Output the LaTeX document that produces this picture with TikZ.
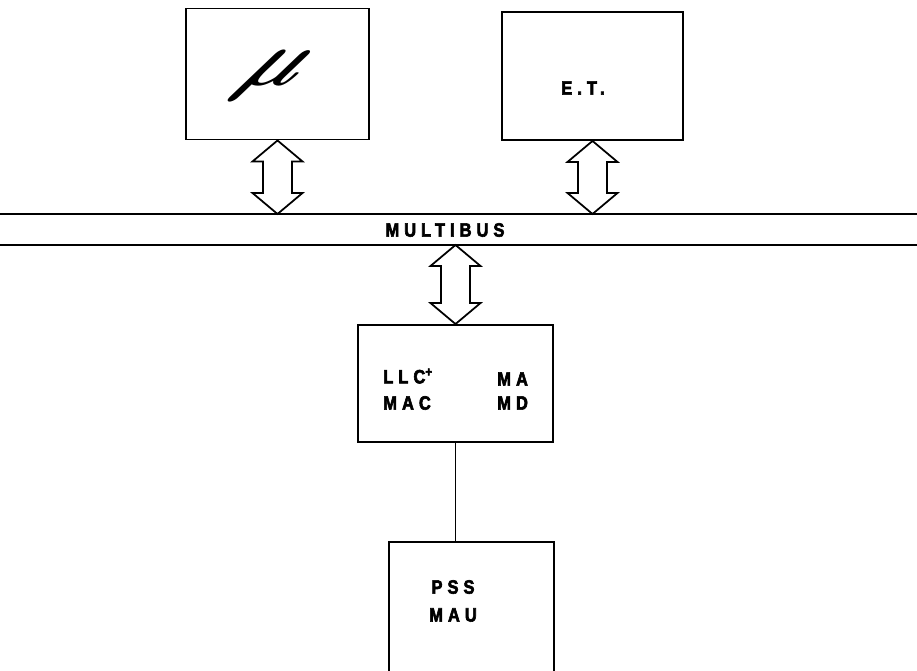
\documentclass[tikz,border=0pt]{standalone}
\usepackage{fontspec}
\usepackage{tikz}
\usetikzlibrary{positioning,calc}
\newfontfamily\rotulofont[FakeStretch=0.85,LetterSpace=26,FakeBold=3]{Liberation Sans Bold}
\tikzset{
  caja/.style={rectangle, draw=black, line width=1.1pt, fill=white, inner sep=0pt},
  rotulo/.style={font=\fontsize{11}{12}\selectfont\rotulofont, inner sep=0pt},
  bus/.style={line width=1.1pt},
  enlace/.style={line width=0.9pt},
  flechad/.style={draw=black, line width=1pt, fill=white, line join=miter,
    to path={let \p1=(\tikztostart), \p2=(\tikztotarget) in
      (\p1) -- (\x1+0.5cm,\y1-0.42cm) -- (\x1+0.29cm,\y1-0.42cm)
      -- (\x1+0.29cm,\y2+0.42cm) -- (\x1+0.5cm,\y2+0.42cm) -- (\x1,\y2)
      -- (\x1-0.5cm,\y2+0.42cm) -- (\x1-0.29cm,\y2+0.42cm)
      -- (\x1-0.29cm,\y1-0.42cm) -- (\x1-0.5cm,\y1-0.42cm) -- cycle}},
}
\begin{document}
\begin{tikzpicture}
  \useasboundingbox[fill=white] (0,0) rectangle (18.34,-13.4);
  \node[caja, minimum width=3.66cm, minimum height=2.62cm] (mu) at (5.55,-1.48) {};
  \node[caja, minimum width=3.62cm, minimum height=2.56cm] (et) at (11.85,-1.52) {};
  \node[font=\Huge\boldmath, inner sep=0pt, scale=1.8, xslant=0.8] (musim) at (5.44,-1.52) {$\mu$};
  \node[rotulo] (etq) at (11.66,-1.76) {E.T.};
  \coordinate (busA) at (0,-4.28);
  \coordinate (busB) at (18.34,-4.28);
  \coordinate (busC) at (0,-4.90);
  \coordinate (busD) at (18.34,-4.90);
  \draw[bus] (busA) -- (busB);
  \draw[bus] (busC) -- (busD);
  \node[rotulo] (multibus) at (8.9,-4.6) {MULTIBUS};
  \node[caja, minimum width=3.9cm, minimum height=2.34cm] (llc) at (9.11,-7.67) {};
  \node[caja, minimum width=3.3cm, minimum height=3.16cm] (pss) at (9.43,-12.42) {};
  \draw[flechad] (mu.south) to (mu.south |- busA);
  \draw[flechad] (et.south) to (et.south |- busA);
  \draw[flechad] (llc.north |- busC) to (llc.north);
  \draw[enlace] (llc.south) -- (llc.south |- pss.north);
  \node[rotulo, anchor=west] (llcp) at (7.66,-7.52) {LLC\textsuperscript{+}};
  \node[rotulo, anchor=west] (mac) at (7.66,-8.06) {MAC};
  \node[rotulo, anchor=west] (ma) at (9.94,-7.58) {MA};
  \node[rotulo, anchor=west] (md) at (9.94,-8.06) {MD};
  \node[rotulo] (psst) at (9.06,-11.74) {PSS};
  \node[rotulo] (mau) at (9.06,-12.30) {MAU};
\end{tikzpicture}
\end{document}
